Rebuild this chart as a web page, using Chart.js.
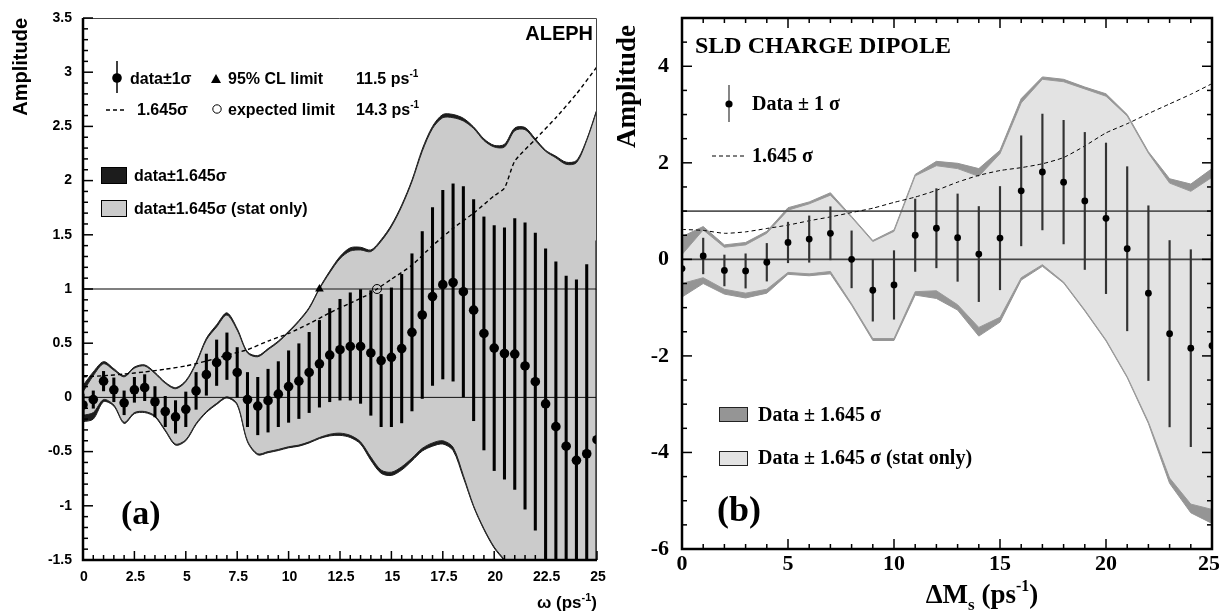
<!DOCTYPE html>
<html><head><meta charset="utf-8">
<script src="https://cdn.jsdelivr.net/npm/chart.js@4.4.1/dist/chart.umd.min.js"></script>
<style>
html,body{margin:0;padding:0;background:#fff;}
#wrap{position:relative;width:1219px;height:615px;overflow:hidden;}
canvas{position:absolute;top:0;}
#ca{left:0;}
#cb{left:610px;}
</style></head><body>
<div id="wrap"><canvas id="ca" width="610" height="615"></canvas><canvas id="cb" width="609" height="615"></canvas></div>
<script>
// ================= Panel (a) : ALEPH =================
const xA = [0,0.5,1,1.5,2,2.5,3,3.5,4,4.5,5,5.5,6,6.5,7,7.5,8,8.5,9,9.5,10,10.5,11,11.5,12,12.5,13,13.5,14,14.5,15,15.5,16,16.5,17,17.5,18,18.5,19,19.5,20,20.5,21,21.5,22,22.5,23,23.5,24,24.5,25];
const ampA = [-0.07,-0.02,0.15,0.07,-0.05,0.07,0.09,-0.04,-0.13,-0.18,-0.11,0.06,0.21,0.32,0.38,0.23,-0.02,-0.08,-0.03,0.03,0.10,0.15,0.23,0.31,0.39,0.44,0.47,0.47,0.41,0.34,0.37,0.45,0.60,0.76,0.93,1.04,1.06,0.975,0.805,0.59,0.455,0.405,0.40,0.29,0.145,-0.06,-0.27,-0.45,-0.58,-0.52,-0.39];
const sigA = [0.10,0.08,0.09,0.11,0.11,0.115,0.12,0.14,0.14,0.15,0.16,0.17,0.19,0.21,0.215,0.23,0.25,0.265,0.29,0.30,0.33,0.345,0.37,0.40,0.43,0.465,0.495,0.525,0.575,0.61,0.64,0.685,0.725,0.77,0.82,0.87,0.91,0.97,1.02,1.075,1.13,1.16,1.25,1.32,1.37,1.43,1.52,1.57,1.665,1.745,1.835];
const statUpA = [0.05,0.20,0.31,0.25,0.19,0.27,0.29,0.22,0.13,0.08,0.145,0.31,0.53,0.65,0.76,0.62,0.41,0.375,0.44,0.51,0.60,0.70,0.82,1.00,1.15,1.28,1.35,1.36,1.345,1.44,1.575,1.76,1.99,2.27,2.48,2.58,2.58,2.55,2.48,2.37,2.31,2.31,2.46,2.47,2.37,2.27,2.21,2.15,2.165,2.37,2.65];
const totUpA = [0.11,0.235,0.33,0.265,0.20,0.28,0.30,0.23,0.14,0.09,0.155,0.32,0.545,0.67,0.78,0.635,0.42,0.385,0.45,0.52,0.61,0.71,0.83,1.01,1.165,1.30,1.38,1.385,1.36,1.455,1.59,1.775,2.005,2.29,2.50,2.61,2.61,2.575,2.495,2.385,2.325,2.335,2.485,2.49,2.385,2.28,2.225,2.17,2.185,2.38,2.66];
const statLoA = [-0.165,-0.14,-0.02,-0.07,-0.23,-0.14,-0.13,-0.17,-0.30,-0.43,-0.39,-0.24,-0.13,-0.055,0.005,-0.06,-0.40,-0.52,-0.50,-0.48,-0.455,-0.44,-0.41,-0.37,-0.34,-0.33,-0.35,-0.41,-0.55,-0.67,-0.69,-0.64,-0.56,-0.47,-0.42,-0.40,-0.46,-0.72,-1.00,-1.21,-1.38,-1.50,-1.66,-1.88,-2.10,-2.40,-2.77,-3.03,-3.30,-3.38,-3.40];
const totLoA = [-0.225,-0.20,-0.04,-0.08,-0.24,-0.15,-0.14,-0.18,-0.31,-0.44,-0.40,-0.25,-0.14,-0.065,-0.005,-0.07,-0.41,-0.53,-0.51,-0.49,-0.465,-0.45,-0.42,-0.38,-0.355,-0.35,-0.37,-0.43,-0.58,-0.70,-0.72,-0.67,-0.585,-0.495,-0.45,-0.43,-0.49,-0.74,-1.01,-1.22,-1.39,-1.51,-1.67,-1.89,-2.11,-2.41,-2.78,-3.04,-3.31,-3.39,-3.41];
const dashXA = [0,1,2,3,4,5,6,7,8,9,10,11,12,13,14,14.3,15,16,17,18,19,20,20.5,21,22,23,24,25];
const dashYA = [0.19,0.20,0.215,0.235,0.26,0.29,0.335,0.39,0.44,0.52,0.59,0.68,0.78,0.87,0.96,1.0,1.09,1.22,1.40,1.56,1.70,1.86,1.93,2.18,2.38,2.58,2.80,3.05];
const limitXA = [11.5];      // 95% CL limit (triangle)
const expectedXA = [14.3];   // expected limit (open circle)
const xTicksA = [0,2.5,5,7.5,10,12.5,15,17.5,20,22.5,25];
const xTickLabelsA = ['0','2.5','5','7.5','10','12.5','15','17.5','20','22.5','25'];
const yTicksA = [-1.5,-1,-0.5,0,0.5,1,1.5,2,2.5,3,3.5];
const yTickLabelsA = ['-1.5','-1','-0.5','0','0.5','1','1.5','2','2.5','3','3.5'];

// ================= Panel (b) : SLD charge dipole =================
const xB = [0,1,2,3,4,5,6,7,8,9,10,11,12,13,14,15,16,17,18,19,20,21,22,23,24,25];
const ampB = [-0.19,0.07,-0.23,-0.24,-0.06,0.35,0.42,0.54,0.0,-0.64,-0.53,0.50,0.645,0.45,0.11,0.44,1.42,1.81,1.60,1.21,0.85,0.22,-0.70,-1.54,-1.84,-1.79];
const sigB = [0.34,0.37,0.32,0.355,0.39,0.42,0.48,0.55,0.59,0.64,0.71,0.75,0.82,0.905,0.985,1.07,1.14,1.20,1.28,1.42,1.56,1.70,1.81,1.93,2.04,2.15];
const statUpB = [0.10,0.61,0.25,0.30,0.54,1.02,1.15,1.33,0.87,0.37,0.58,1.73,1.94,1.88,1.72,2.19,3.24,3.73,3.68,3.53,3.38,2.97,2.20,1.58,1.41,1.70];
const totUpB = [0.47,0.68,0.30,0.35,0.58,1.07,1.19,1.38,0.89,0.39,0.61,1.76,2.03,1.99,1.88,2.26,3.33,3.78,3.73,3.57,3.43,3.00,2.23,1.67,1.56,1.88];
const statLoB = [-0.50,-0.38,-0.62,-0.70,-0.62,-0.27,-0.30,-0.25,-0.92,-1.64,-1.64,-0.67,-0.65,-0.94,-1.41,-1.20,-0.38,-0.11,-0.47,-1.05,-1.67,-2.43,-3.37,-4.53,-5.07,-5.18];
const totLoB = [-0.78,-0.50,-0.72,-0.80,-0.70,-0.31,-0.34,-0.30,-0.95,-1.68,-1.68,-0.74,-0.81,-1.05,-1.59,-1.30,-0.43,-0.145,-0.49,-1.07,-1.69,-2.45,-3.40,-4.64,-5.25,-5.47];
const dashXB = [0,1,2,3,4,5,6,7,8,9,10,11,12,13,14,15,16,17,18,19,20,21,22,23,24,25];
const dashYB = [0.62,0.60,0.54,0.57,0.64,0.71,0.80,0.88,0.97,1.06,1.18,1.29,1.43,1.60,1.74,1.84,1.90,1.98,2.11,2.35,2.62,2.81,3.02,3.22,3.42,3.64];
const xTicksB = [0,5,10,15,20,25];
const xTickLabelsB = ['0','5','10','15','20','25'];
const yTicksB = [-6,-4,-2,0,2,4];
const yTickLabelsB = ['-6','-4','-2','0','2','4'];

const refLevels = [0, 1];   // horizontal reference lines at A=0 and A=1
const xRange = [0, 25];

const SANS = '"Liberation Sans", Arial, Helvetica, sans-serif';
const SERIF = '"Liberation Serif", "Times New Roman", Times, serif';

// ---------- helpers ----------
function pts(xs, ys){ return xs.map((x,i)=>({x:x, y:ys[i]})); }
function lineDS(xs, ys, opt){
  return Object.assign({type:'line', data:pts(xs,ys), pointRadius:0, borderWidth:1, fill:false, tension:0, clip:0}, opt);
}
function errDS(xs, a, s, opt){
  return Object.assign({type:'bar', data: xs.map((x,i)=>({x:x, y:[a[i]-s[i], a[i]+s[i]]})), borderWidth:0, clip:0}, opt);
}
function drawParts(ctx, parts, x, y, align){
  let w = 0;
  parts.forEach(p=>{ ctx.font = p.f; p.w = ctx.measureText(p.t).width; w += p.w; });
  let cx = align==='right' ? x-w : (align==='center' ? x-w/2 : x);
  ctx.textAlign = 'left';
  parts.forEach(p=>{ ctx.font = p.f; ctx.fillText(p.t, cx, y + (p.dy||0)); cx += p.w; });
}
function seg(ctx, x1, y1, x2, y2){ ctx.beginPath(); ctx.moveTo(x1,y1); ctx.lineTo(x2,y2); ctx.stroke(); }

function baseOptions(padRight, yW, xH, xmin, xmax, ymin, ymax){
  return {
    responsive:false, animation:false, devicePixelRatio:1, events:[],
    layout:{padding:{left:0, right:padRight, top:18, bottom:0}},
    plugins:{legend:{display:false}, tooltip:{enabled:false}, title:{display:false}},
    scales:{
      x:{type:'linear', min:xmin, max:xmax, offset:false, grid:{display:false}, border:{display:false}, ticks:{display:false}, afterFit:(s)=>{s.height=xH;}},
      y:{type:'linear', min:ymin, max:ymax, grid:{display:false}, border:{display:false}, ticks:{display:false}, afterFit:(s)=>{s.width=yW;}}
    }
  };
}

// ---------- Chart (a) ----------
const dsA = [
  lineDS(xA, totUpA, {fill:'+1', backgroundColor:'#1c1c1c', borderColor:'#1c1c1c', borderWidth:1, tension:0.3, order:20}),
  lineDS(xA, totLoA, {borderColor:'#1c1c1c', borderWidth:1, tension:0.3, order:19}),
  lineDS(xA, statUpA, {fill:'+1', backgroundColor:'#cbcbcb', borderColor:'#262626', borderWidth:1, tension:0.3, order:18}),
  lineDS(xA, statLoA, {borderColor:'#262626', borderWidth:1, tension:0.3, order:17}),
  lineDS(xRange, [refLevels[0], refLevels[0]], {borderColor:'#111', borderWidth:1, order:12}),
  lineDS(xRange, [refLevels[1], refLevels[1]], {borderColor:'#555', borderWidth:1.6, order:11}),
  lineDS(dashXA, dashYA, {borderColor:'#000', borderWidth:1.4, borderDash:[4,3], tension:0.2, order:10}),
  errDS(xA, ampA, sigA, {backgroundColor:'#000', barThickness:2.4, order:5}),
  {type:'scatter', data:pts(xA, ampA), pointRadius:4.8, pointStyle:'circle', backgroundColor:'#000', borderWidth:0, clip:0, order:2},
  {type:'scatter', data:pts(limitXA, [1]), pointRadius:5, pointStyle:'triangle', backgroundColor:'#000', borderColor:'#000', borderWidth:0, clip:0, order:1},
  {type:'scatter', data:pts(expectedXA, [1]), pointRadius:4.5, pointStyle:'circle', backgroundColor:'rgba(0,0,0,0)', borderColor:'#000', borderWidth:1, clip:0, order:1}
];

const decoA = {id:'decoA', afterDraw(chart){
  const ctx = chart.ctx, xs = chart.scales.x, ys = chart.scales.y, a = chart.chartArea;
  ctx.save();
  // frame
  ctx.strokeStyle = '#444'; ctx.lineWidth = 1;
  ctx.beginPath(); ctx.moveTo(a.left, a.top+0.5); ctx.lineTo(a.right-0.5, a.top+0.5); ctx.lineTo(a.right-0.5, a.bottom); ctx.stroke();
  ctx.strokeStyle = '#000'; ctx.lineWidth = 2.5;
  ctx.beginPath(); ctx.moveTo(a.left, a.top); ctx.lineTo(a.left, a.bottom); ctx.lineTo(a.right, a.bottom); ctx.stroke();
  // ticks
  ctx.lineWidth = 1.5;
  for (let k=-15; k<=35; k++){ const p = ys.getPixelForValue(k/10); seg(ctx, a.left, p, a.left + (k%5===0?10:5), p); }
  for (let k=0; k<=50; k++){ const p = xs.getPixelForValue(k/2); seg(ctx, p, a.bottom, p, a.bottom - (k%5===0?9:5)); }
  // tick labels
  ctx.fillStyle = '#000';
  ctx.font = 'bold 14px ' + SANS; ctx.textAlign = 'right'; ctx.textBaseline = 'middle';
  yTicksA.forEach((v,i)=>ctx.fillText(yTickLabelsA[i], a.left-11, ys.getPixelForValue(v)));
  ctx.textAlign = 'center';
  xTicksA.forEach((v,i)=>ctx.fillText(xTickLabelsA[i], xs.getPixelForValue(v)+1, a.bottom+17));
  ctx.textBaseline = 'alphabetic';
  // axis titles
  drawParts(ctx, [{t:'\u03c9', f:'bold 17px '+SANS}, {t:' (ps', f:'bold 17px '+SANS}, {t:'-1', f:'bold 11px '+SANS, dy:-7}, {t:')', f:'bold 17px '+SANS}], a.right, 608, 'right');
  ctx.save(); ctx.translate(26.5, a.top); ctx.rotate(-Math.PI/2);
  ctx.font = 'bold 20px ' + SANS; ctx.textAlign = 'right'; ctx.fillText('Amplitude', 0, 0); ctx.restore();
  // experiment label
  ctx.font = 'bold 20px ' + SANS; ctx.textAlign = 'right'; ctx.fillText('ALEPH', 593, 40);
  ctx.font = 'bold 34px ' + SERIF; ctx.textAlign = 'left'; ctx.fillText('(a)', 121, 524);
  // legend
  const LF = 'bold 16px ' + SANS, SF = 'bold 10px ' + SANS;
  ctx.strokeStyle = '#000'; ctx.lineWidth = 1.5; seg(ctx, 117, 61, 117, 93);
  ctx.beginPath(); ctx.arc(117, 78, 4.8, 0, 2*Math.PI); ctx.fill();
  ctx.font = LF; ctx.textAlign = 'left'; ctx.fillText('data\u00b11\u03c3', 130, 84);
  ctx.beginPath(); ctx.moveTo(211, 83); ctx.lineTo(221, 83); ctx.lineTo(216, 74); ctx.closePath(); ctx.fill();
  ctx.fillText('95% CL limit', 228, 84);
  drawParts(ctx, [{t:'11.5 ps', f:LF}, {t:'-1', f:SF, dy:-7}], 356, 84, 'left');
  ctx.lineWidth = 1.4; ctx.setLineDash([4,3]); seg(ctx, 106, 110, 126, 110); ctx.setLineDash([]);
  ctx.font = LF; ctx.fillText('1.645\u03c3', 137, 115);
  ctx.lineWidth = 1; ctx.beginPath(); ctx.arc(217, 109, 4.2, 0, 2*Math.PI); ctx.stroke();
  ctx.font = LF; ctx.fillText('expected limit', 228, 115);
  drawParts(ctx, [{t:'14.3 ps', f:LF}, {t:'-1', f:SF, dy:-7}], 356, 115, 'left');
  ctx.fillStyle = '#1c1c1c'; ctx.fillRect(101, 167, 25, 16); ctx.strokeStyle='#000'; ctx.lineWidth=1; ctx.strokeRect(101.5, 167.5, 25, 16);
  ctx.fillStyle = '#cbcbcb'; ctx.fillRect(101, 200, 25, 16); ctx.strokeRect(101.5, 200.5, 25, 16);
  ctx.fillStyle = '#000'; ctx.font = LF;
  ctx.fillText('data\u00b11.645\u03c3', 134, 181);
  ctx.fillText('data\u00b11.645\u03c3 (stat only)', 134, 214);
  ctx.restore();
}};

new Chart(document.getElementById('ca'), {
  type:'line', data:{datasets:dsA},
  options: baseOptions(13, 83, 55, xRange[0], xRange[1], -1.5, 3.5),
  plugins:[decoA]
});

// ---------- Chart (b) ----------
const dsB = [
  lineDS(xB, totUpB, {fill:'+1', backgroundColor:'#959595', borderColor:'#959595', borderWidth:1, order:20}),
  lineDS(xB, totLoB, {borderColor:'#959595', borderWidth:1, order:19}),
  lineDS(xB, statUpB, {fill:'+1', backgroundColor:'#e3e3e3', borderColor:'#9a9a9a', borderWidth:1, order:18}),
  lineDS(xB, statLoB, {borderColor:'#9a9a9a', borderWidth:1, order:17}),
  lineDS(xRange, [refLevels[0], refLevels[0]], {borderColor:'#444', borderWidth:1.6, order:12}),
  lineDS(xRange, [refLevels[1], refLevels[1]], {borderColor:'#555', borderWidth:1.6, order:11}),
  lineDS(dashXB, dashYB, {borderColor:'#000', borderWidth:1, borderDash:[4,3], tension:0.2, order:10}),
  errDS(xB, ampB, sigB, {backgroundColor:'#333', barThickness:1.5, order:5}),
  {type:'scatter', data:pts(xB, ampB), pointRadius:3.4, pointStyle:'circle', backgroundColor:'#000', borderWidth:0, clip:0, order:2}
];

const decoB = {id:'decoB', afterDraw(chart){
  const ctx = chart.ctx, xs = chart.scales.x, ys = chart.scales.y, a = chart.chartArea;
  ctx.save();
  ctx.strokeStyle = '#000'; ctx.lineWidth = 2.5;
  ctx.strokeRect(a.left, a.top, a.right-a.left, a.bottom-a.top);
  ctx.lineWidth = 1.5;
  for (let k=-12; k<=10; k++){ const p = ys.getPixelForValue(k/2); const L = (k%4===0)?10:5;
    seg(ctx, a.left, p, a.left+L, p); seg(ctx, a.right, p, a.right-L, p); }
  for (let k=0; k<=25; k++){ const p = xs.getPixelForValue(k); const L = (k%5===0)?10:5;
    seg(ctx, p, a.bottom, p, a.bottom-L); seg(ctx, p, a.top, p, a.top+L); }
  ctx.fillStyle = '#000';
  ctx.font = 'bold 22px ' + SERIF; ctx.textAlign = 'right'; ctx.textBaseline = 'middle';
  yTicksB.forEach((v,i)=>ctx.fillText(yTickLabelsB[i], a.left-13, ys.getPixelForValue(v)));
  ctx.textAlign = 'center';
  xTicksB.forEach((v,i)=>{
    ctx.font = 'bold 22px ' + SERIF;
    const w = ctx.measureText(xTickLabelsB[i]).width;
    const cx = Math.min(xs.getPixelForValue(v), chart.width - w/2 + 1);
    ctx.fillText(xTickLabelsB[i], cx, a.bottom+15);
  });
  ctx.textBaseline = 'alphabetic';
  // x title: ΔMs (ps-1)
  const TF = 'bold 27px ' + SERIF;
  drawParts(ctx, [{t:'\u0394M', f:TF}, {t:'s', f:'bold 17px '+SERIF, dy:7}, {t:' (ps', f:TF}, {t:'-1', f:'bold 16px '+SERIF, dy:-12}, {t:')', f:TF}], 372, 603, 'center');
  ctx.save(); ctx.translate(25, 25); ctx.rotate(-Math.PI/2);
  ctx.font = 'bold 27px ' + SERIF; ctx.textAlign = 'right'; ctx.fillText('Amplitude', 0, 0); ctx.restore();
  ctx.font = 'bold 24px ' + SERIF; ctx.textAlign = 'left'; ctx.fillText('SLD CHARGE DIPOLE', 85, 53);
  ctx.font = 'bold 36px ' + SERIF; ctx.fillText('(b)', 107, 521);
  // legend
  const LF = 'bold 20px ' + SERIF;
  ctx.strokeStyle = '#444'; ctx.lineWidth = 1.3; seg(ctx, 119, 85, 119, 122);
  ctx.fillStyle = '#000'; ctx.beginPath(); ctx.arc(119, 104, 3.6, 0, 2*Math.PI); ctx.fill();
  ctx.font = LF; ctx.fillText('Data \u00b1 1 \u03c3', 142, 110);
  ctx.strokeStyle = '#000'; ctx.lineWidth = 1; ctx.setLineDash([4,3]); seg(ctx, 102, 156, 137, 156); ctx.setLineDash([]);
  ctx.fillText('1.645 \u03c3', 142, 162);
  ctx.fillStyle = '#959595'; ctx.fillRect(109, 407, 28, 14); ctx.strokeStyle = '#222'; ctx.lineWidth = 1; ctx.strokeRect(109.5, 407.5, 28, 14);
  ctx.fillStyle = '#e3e3e3'; ctx.fillRect(109, 451, 28, 14); ctx.strokeRect(109.5, 451.5, 28, 14);
  ctx.fillStyle = '#000'; ctx.font = LF;
  ctx.fillText('Data \u00b1 1.645 \u03c3', 148, 421);
  ctx.fillText('Data \u00b1 1.645 \u03c3 (stat only)', 148, 464);
  ctx.restore();
}};

new Chart(document.getElementById('cb'), {
  type:'line', data:{datasets:dsB},
  options: baseOptions(7, 72, 66, xRange[0], xRange[1], -6, 5),
  plugins:[decoB]
});
</script>
</body></html>
